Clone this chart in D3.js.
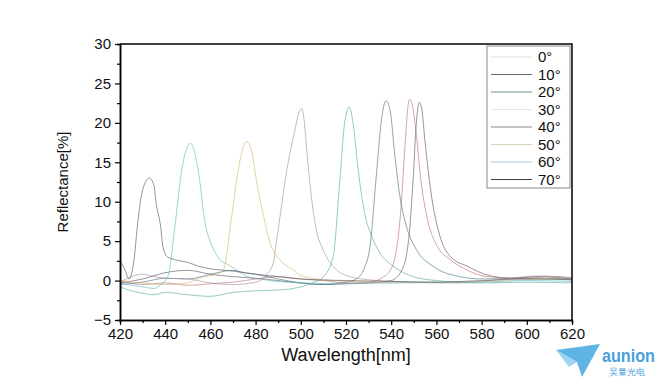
<!DOCTYPE html>
<html>
<head>
<meta charset="utf-8">
<script src="https://cdn.jsdelivr.net/npm/d3@7"></script>
<style>
  body { margin: 0; background: #fff; }
  text { font-family: "Liberation Sans", Arial, sans-serif; }
</style>
</head>
<body>
<div id="chart"></div>
<script>
// angle labels and line colours
const angles = ["0°", "10°", "20°", "30°", "40°", "50°", "60°", "70°"];
const colors = ["#5a4a5a", "#b86a6a", "#3d6e80", "#4aa894", "#a08898", "#d4b46a", "#5ab4c4", "#4d4d4d"];
const legendColors = ["#dcdcdc", "#6a6a6a", "#6f8a8a", "#e4e4e4", "#8a8a8a", "#d8d0b8", "#9fd0d8", "#404040"];

// spectra (wavelength nm, reflectance %)
const wl0 = [420, 430, 440, 450, 460, 470, 480, 490, 500, 510, 520, 530, 540, 545, 548, 549.7, 551, 552.4, 553.5, 555, 557.9, 561.6, 566.4, 573.8, 582.6, 592.9, 605, 620];
const r0 = [-0.3, 0.2, 1.0, 1.3, 0.8, 0.5, 0.3, 0, -0.3, -0.5, -0.4, -0.3, 0, 1.5, 6.0, 12.8, 19.5, 22.6, 21.8, 17.5, 10.6, 5.6, 3.0, 1.8, 0.7, 0.3, 0.5, 0.2];

const wl10 = [420, 430, 440, 450, 460, 470, 480, 490, 500, 510, 520, 530, 535, 540, 543.9, 546.1, 547.3, 548.2, 549.3, 550.9, 553.1, 556.1, 560.5, 566.4, 573.8, 582.6, 600, 610, 620];
const r10 = [0.0, -0.5, -0.3, -0.6, -0.4, -0.2, 0.2, 0.5, 0.2, 0, -0.3, -0.2, 0.2, 1.5, 7.7, 17.0, 21.8, 23.0, 22.3, 19.1, 12.8, 7.7, 4.3, 2.6, 1.3, 0.5, 0.3, 0.5, 0.4];

const wl20 = [420, 430, 440, 450, 460, 470, 475, 480, 490, 500, 510, 520, 525, 528, 530.6, 533.5, 535.7, 537.7, 539.5, 541.6, 543.9, 546.8, 551.2, 558.6, 570.4, 580, 600, 620];
const r20 = [-0.5, -0.2, 0.3, 0.2, 0.8, 1.3, 1.0, 0.8, 0.2, -0.3, -0.5, -0.2, 0.3, 1.5, 4.3, 13.6, 20.4, 22.8, 21.6, 15.9, 10.6, 6.8, 3.9, 1.8, 0.5, 0.2, 0.3, 0.2];

const wl30 = [420, 425, 430, 435, 440, 450, 460, 470, 480, 490, 500, 505, 510, 514.3, 517.3, 519.5, 521.5, 523.2, 525.4, 528.3, 531.4, 535, 541, 549.7, 560, 580, 600, 620];
const r30 = [-0.8, -1.3, -1.6, -1.8, -1.5, -1.8, -2.0, -1.5, -1.3, -1.2, -0.8, -0.3, 0.5, 3.0, 12.8, 20.2, 22.0, 19.8, 14.0, 8.5, 5.6, 3.5, 1.8, 0.5, 0, -0.3, -0.2, -0.3];

const wl40 = [420, 430, 435, 440, 450, 460, 470, 480, 485, 487.8, 488.9, 491, 493.8, 497.4, 499.3, 500.4, 501.5, 502.5, 504.7, 506.9, 509.9, 514.3, 521.7, 530, 550, 570, 590, 605, 620];
const r40 = [-0.2, 0.8, 0.5, 0.3, 0.2, -0.3, -0.5, -0.2, 0.8, 2.2, 4.3, 8.5, 14.0, 19.1, 21.4, 21.8, 20.3, 17.0, 10.6, 6.4, 3.9, 1.8, 0.5, 0.1, -0.2, -0.3, 0.2, 0.6, 0.3];

const wl50 = [420, 430, 440, 450, 455, 460, 463, 465.7, 469.4, 472.3, 474.6, 476.1, 478.3, 480.6, 483.6, 486.5, 490.9, 496.9, 499.6, 510, 530, 550, 570, 590, 610, 620];
const r50 = [0.0, -0.3, -0.5, -0.3, 0.3, 0.6, 0.8, 1.3, 8.1, 14.0, 17.0, 17.6, 16.3, 12.3, 8.1, 4.7, 2.6, 1.3, 0.7, 0.1, -0.2, -0.3, -0.2, 0, 0.2, 0.1];

const wl60 = [420, 425, 430, 435, 438, 441.2, 444.1, 447.1, 449.3, 451.2, 453, 455.2, 457.4, 460.3, 463.3, 469.2, 476.5, 484, 500, 520, 540, 560, 580, 600, 620];
const r60 = [-0.3, -0.6, -0.8, -1.0, -0.5, 0.5, 6.4, 13.6, 16.6, 17.4, 16.3, 12.8, 7.7, 4.7, 3.0, 1.8, 0.5, 0.1, -0.3, -0.4, -0.3, -0.2, -0.2, 0, -0.1];

const wl70 = [420, 422, 424, 426, 428, 430, 433, 435, 436, 438, 439, 441, 445, 450, 455, 460, 470, 480, 490, 500, 520, 540, 560, 580, 600, 620];
const r70 = [2.5, 1.5, 0.2, 2.2, 7.7, 11.5, 13.0, 12.1, 9.8, 6.8, 4.3, 3.0, 2.6, 2.3, 1.8, 1.5, 1.2, 0.8, 0.5, 0.2, 0, -0.1, -0.2, 0, 0.2, 0.1];

const xTicks = [420, 440, 460, 480, 500, 520, 540, 560, 580, 600, 620];
const yTicks = [-5, 0, 5, 10, 15, 20, 25, 30];

const waves = [wl0, wl10, wl20, wl30, wl40, wl50, wl60, wl70];
const refl = [r0, r10, r20, r30, r40, r50, r60, r70];

const width = 666, height = 384;
const margin = {left: 120, right: 94, top: 44, bottom: 64};

const svg = d3.select("#chart").append("svg")
    .attr("width", width)
    .attr("height", height);

const x = d3.scaleLinear().domain([420, 620]).range([margin.left, width - margin.right]);
const y = d3.scaleLinear().domain([-5, 30]).range([height - margin.bottom, margin.top]);

// clip to the plot box
svg.append("defs").append("clipPath").attr("id", "clip")
    .append("rect")
    .attr("x", x(420)).attr("y", y(30))
    .attr("width", x(620) - x(420)).attr("height", y(-5) - y(30));

const line = d3.line()
    .x(d => x(d[0]))
    .y(d => y(d[1]))
    .curve(d3.curveMonotoneX);

const lines = svg.append("g").attr("clip-path", "url(#clip)");
waves.forEach((w, i) => {
    lines.append("path")
        .datum(w.map((v, j) => [v, refl[i][j]]))
        .attr("d", line)
        .attr("fill", "none")
        .attr("stroke", colors[i])
        .attr("stroke-width", 0.8)
        .attr("stroke-opacity", 0.75);
});

// axes
svg.append("g")
    .attr("transform", `translate(0,${y(-5)})`)
    .call(d3.axisBottom(x).tickValues(xTicks).tickSize(5).tickSizeOuter(0).tickPadding(3));
svg.append("g")
    .attr("transform", `translate(0,${y(-5)})`)
    .call(d3.axisBottom(x).tickValues(d3.range(430, 620, 20)).tickSize(3).tickFormat(""));

svg.append("g")
    .attr("transform", `translate(${x(420)},0)`)
    .call(d3.axisLeft(y).tickValues(yTicks).tickSize(5).tickSizeOuter(0).tickPadding(4));
svg.append("g")
    .attr("transform", `translate(${x(420)},0)`)
    .call(d3.axisLeft(y).tickValues(d3.range(-2.5, 30, 5)).tickSize(3).tickFormat(""));

svg.selectAll(".domain").attr("stroke", "#000").attr("stroke-width", 1.5);
svg.selectAll(".tick line").attr("stroke", "#000").attr("stroke-width", 1.2);
svg.selectAll(".tick text")
    .attr("font-family", "'Liberation Sans', Arial, sans-serif")
    .attr("font-size", 15)
    .attr("fill", "#111");

// top & right frame
svg.append("path")
    .attr("d", `M${x(420)},${y(30)} H${x(620)} V${y(-5)}`)
    .attr("fill", "none")
    .attr("stroke", "#000")
    .attr("stroke-width", 1.5);

// axis titles
svg.append("text")
    .attr("x", (x(420) + x(620)) / 2)
    .attr("y", 361)
    .attr("text-anchor", "middle")
    .attr("font-size", 18)
    .attr("fill", "#111")
    .text("Wavelength[nm]");

svg.append("text")
    .attr("transform", `translate(68,${(y(30) + y(-5)) / 2}) rotate(-90)`)
    .attr("text-anchor", "middle")
    .attr("font-size", 15)
    .attr("fill", "#111")
    .text("Reflectance[%]");

// legend
const lg = svg.append("g");
lg.append("rect")
    .attr("x", 487).attr("y", 46)
    .attr("width", 83).attr("height", 142)
    .attr("fill", "#fff")
    .attr("stroke", "#888")
    .attr("stroke-width", 1);

angles.forEach((a, i) => {
    const ly = 57 + i * 17.5;
    lg.append("line")
        .attr("x1", 491).attr("x2", 532)
        .attr("y1", ly).attr("y2", ly)
        .attr("stroke", legendColors[i])
        .attr("stroke-width", 1);
    lg.append("text")
        .attr("x", 538).attr("y", ly + 5)
        .attr("font-size", 15)
        .attr("fill", "#111")
        .text(a);
});

// logo watermark
const logo = svg.append("g");
logo.append("path")
    .attr("d", "M556,350 L600,344 L582,377 L577,362 Z")
    .attr("fill", "#5fb4e6");
logo.append("path")
    .attr("d", "M556,350 L577,362 L569,367 Z")
    .attr("fill", "#9ed4f2");
logo.append("text")
    .attr("x", 602).attr("y", 362)
    .attr("font-size", 18)
    .attr("font-weight", "bold")
    .attr("textLength", 53)
    .attr("lengthAdjust", "spacingAndGlyphs")
    .attr("fill", "#4a9fda")
    .text("aunion");
logo.append("text")
    .attr("x", 627).attr("y", 375)
    .attr("text-anchor", "middle")
    .attr("font-family", "'Noto Sans CJK SC', sans-serif")
    .attr("font-size", 9)
    .attr("fill", "#4a9fda")
    .text("昊量光电");
</script>
</body>
</html>
